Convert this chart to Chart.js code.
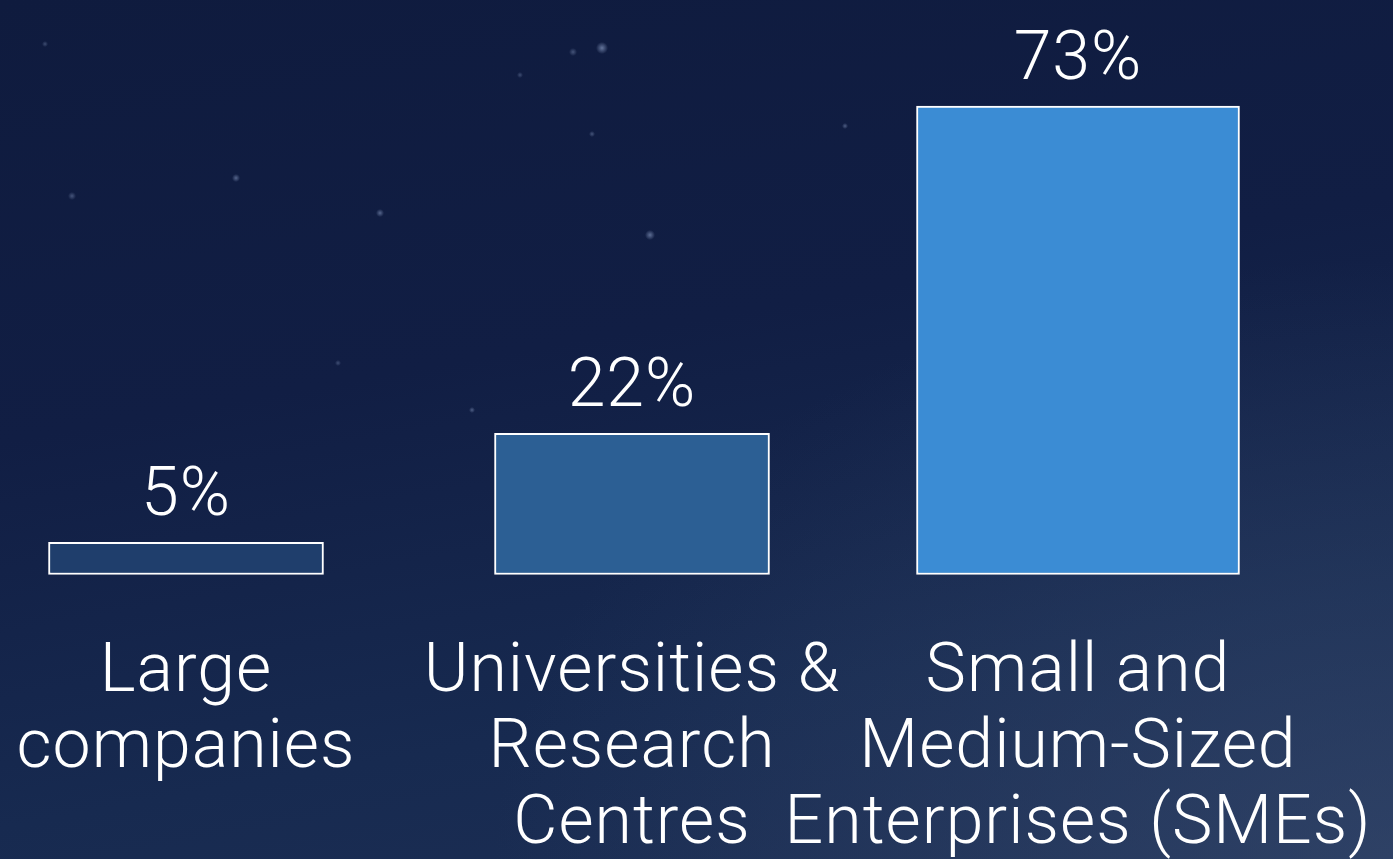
<!DOCTYPE html>
<html>
<head>
<meta charset="utf-8">
<script src="https://cdn.jsdelivr.net/npm/chart.js@4/dist/chart.umd.min.js"></script>
<style>
  html, body { margin: 0; padding: 0; width: 1393px; height: 859px; overflow: hidden; }
  body {
    background:
      radial-gradient(circle 6px at 602px 48px, rgba(170,190,230,0.55), rgba(170,190,230,0) 100%),
      radial-gradient(circle 4px at 573px 52px, rgba(170,190,230,0.35), rgba(170,190,230,0) 100%),
      radial-gradient(circle 5px at 650px 235px, rgba(170,190,230,0.5), rgba(170,190,230,0) 100%),
      radial-gradient(circle 4px at 380px 213px, rgba(170,190,230,0.45), rgba(170,190,230,0) 100%),
      radial-gradient(circle 4px at 236px 178px, rgba(170,190,230,0.45), rgba(170,190,230,0) 100%),
      radial-gradient(circle 4px at 72px 196px, rgba(170,190,230,0.35), rgba(170,190,230,0) 100%),
      radial-gradient(circle 3px at 845px 126px, rgba(170,190,230,0.4), rgba(170,190,230,0) 100%),
      radial-gradient(circle 3px at 592px 134px, rgba(170,190,230,0.35), rgba(170,190,230,0) 100%),
      radial-gradient(circle 3px at 472px 410px, rgba(170,190,230,0.4), rgba(170,190,230,0) 100%),
      radial-gradient(circle 3px at 338px 363px, rgba(170,190,230,0.3), rgba(170,190,230,0) 100%),
      radial-gradient(circle 3px at 45px 44px, rgba(170,190,230,0.3), rgba(170,190,230,0) 100%),
      radial-gradient(circle 3px at 520px 75px, rgba(170,190,230,0.3), rgba(170,190,230,0) 100%),
      radial-gradient(ellipse 900px 600px at 1393px 859px, rgba(60,80,115,0.55), rgba(60,80,115,0) 100%),
      linear-gradient(170deg, #0f1b3e 0%, #111e44 40%, #172a50 75%, #1d2f55 100%);
  }
  #wrap { position: absolute; left: 0; top: 0; width: 1393px; height: 859px; }
</style>
</head>
<body>
<div id="wrap"><canvas id="c"></canvas></div>
<script>
const categories = [
  ["Large", "companies"],
  ["Universities &", "Research", "Centres"],
  ["Small and", "Medium-Sized", "Enterprises (SMEs)"]
];
const values = [5, 22, 73];
const barColors = ["#1f3e6c", "#2c5f94", "#3b8cd4"];
const barWidths = [275, 275, 323];

const FONT = "Roboto, 'Noto Sans', 'DejaVu Sans', sans-serif";
const FONT_SIZE = 68;
const LETTER_SPACING = "1px";

const datasets = values.map((v, i) => ({
  data: values.map((val, j) => (j === i ? val : null)),
  backgroundColor: barColors[i],
  borderColor: "#ffffff",
  borderWidth: 2,
  borderSkipped: false,
  barThickness: barWidths[i],
  skipNull: true,
  clip: false
}));

const spacing = {
  id: "spacing",
  beforeLayout(chart) { chart.ctx.letterSpacing = LETTER_SPACING; },
  beforeDraw(chart) { chart.ctx.letterSpacing = LETTER_SPACING; }
};

const valueLabels = {
  id: "valueLabels",
  afterDatasetsDraw(chart) {
    const ctx = chart.ctx;
    ctx.save();
    ctx.letterSpacing = LETTER_SPACING;
    ctx.fillStyle = "#ffffff";
    ctx.font = "300 " + FONT_SIZE + "px " + FONT;
    ctx.textAlign = "center";
    ctx.textBaseline = "alphabetic";
    chart.data.datasets.forEach((ds, di) => {
      const meta = chart.getDatasetMeta(di);
      meta.data.forEach((el, i) => {
        const v = ds.data[i];
        if (v === null || v === undefined) return;
        ctx.fillText(v + "%", el.x, el.y - 27);
      });
    });
    ctx.restore();
  }
};

new Chart(document.getElementById("c"), {
  type: "bar",
  data: { labels: categories, datasets },
  options: {
    responsive: true,
    maintainAspectRatio: false,
    animation: false,
    layout: { padding: { left: 186, right: 315, top: 29, bottom: -5 } },
    plugins: { legend: { display: false }, tooltip: { enabled: false } },
    scales: {
      x: {
        offset: false,
        grid: {
          display: true,
          drawOnChartArea: false,
          drawTicks: true,
          tickLength: 61,
          color: "rgba(0,0,0,0)",
          tickColor: "rgba(0,0,0,0)"
        },
        border: { display: false },
        ticks: {
          color: "#ffffff",
          padding: 0,
          maxRotation: 0,
          autoSkip: false,
          font: { family: FONT, size: FONT_SIZE, weight: 300, lineHeight: 1.12 }
        }
      },
      y: {
        display: false,
        min: 0,
        max: 85,
        grid: { display: false }
      }
    }
  },
  plugins: [spacing, valueLabels]
});
</script>
</body>
</html>
